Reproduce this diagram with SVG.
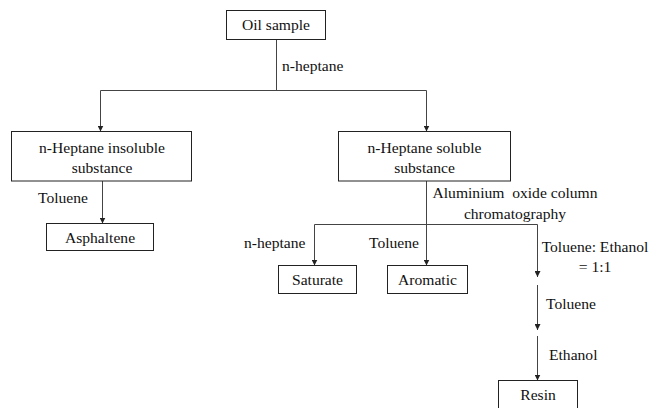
<svg xmlns="http://www.w3.org/2000/svg" width="654" height="408" viewBox="0 0 654 408">
<defs>
<marker id="arr" markerUnits="userSpaceOnUse" markerWidth="6" markerHeight="6" refX="6" refY="3" orient="auto">
<path d="M0,0 L6,3 L0,6 z" fill="#222"/>
</marker>
<style>
text{font-family:'Liberation Serif','Times New Roman',serif;font-size:15.6px;fill:#111}
.box{fill:#fff;stroke:#222;stroke-width:1}
.c line{stroke:#444;stroke-width:1;fill:none}
.a{marker-end:url(#arr)}
.m{text-anchor:middle}
</style>
</defs>
<rect width="654" height="408" fill="#fff"/>
<g class="c" id="connectors">
<line x1="276.5" y1="39.5" x2="276.5" y2="90.5"/>
<line x1="100.5" y1="90.5" x2="426.5" y2="90.5"/>
<line class="a" x1="100.5" y1="90.5" x2="100.5" y2="131.5"/>
<line class="a" x1="426.5" y1="90.5" x2="426.5" y2="131.5"/>
<line class="a" x1="102.5" y1="181" x2="102.5" y2="223.5"/>
<line class="a" x1="426.5" y1="181" x2="426.5" y2="265.5"/>
<line x1="314.5" y1="224.5" x2="537.5" y2="224.5"/>
<line class="a" x1="314.5" y1="224.5" x2="314.5" y2="265.5"/>
<line class="a" x1="537.5" y1="224.5" x2="537.5" y2="277"/>
<line class="a" x1="537.5" y1="285" x2="537.5" y2="330"/>
<line class="a" x1="537.5" y1="336" x2="537.5" y2="380.5"/>
</g>
<g id="labels">
<text x="282" y="71">n-heptane</text>
<text x="38" y="203">Toluene</text>
<text x="515" y="198" class="m" xml:space="preserve">Aluminium  oxide column</text>
<text x="515" y="219" class="m">chromatography</text>
<text x="244" y="248">n-heptane</text>
<text x="369" y="248">Toluene</text>
<text x="595" y="252" class="m">Toluene: Ethanol</text>
<text x="595" y="272" class="m">= 1:1</text>
<text x="546" y="309">Toluene</text>
<text x="549" y="360">Ethanol</text>
</g>
<g id="oil-sample">
<rect class="box" x="226.5" y="10.5" width="99" height="29"/>
<text x="276" y="30" class="m">Oil sample</text>
</g>
<g id="insoluble">
<rect class="box" x="11.5" y="131.5" width="180" height="49.5"/>
<text x="102" y="153" class="m">n-Heptane insoluble</text>
<text x="102" y="173" class="m">substance</text>
</g>
<g id="soluble">
<rect class="box" x="338.5" y="131.5" width="172" height="49.5"/>
<text x="424.5" y="153" class="m">n-Heptane soluble</text>
<text x="424.5" y="173" class="m">substance</text>
</g>
<g id="asphaltene">
<rect class="box" x="46.5" y="223.5" width="107" height="27"/>
<text x="100" y="243" class="m">Asphaltene</text>
</g>
<g id="saturate">
<rect class="box" x="278.5" y="265.5" width="78" height="28"/>
<text x="317.5" y="284.5" class="m">Saturate</text>
</g>
<g id="aromatic">
<rect class="box" x="387.5" y="265.5" width="80" height="28"/>
<text x="427.5" y="284.5" class="m">Aromatic</text>
</g>
<g id="resin">
<rect class="box" x="498.5" y="380.5" width="79" height="40"/>
<text x="538" y="400" class="m">Resin</text>
</g>
</svg>
